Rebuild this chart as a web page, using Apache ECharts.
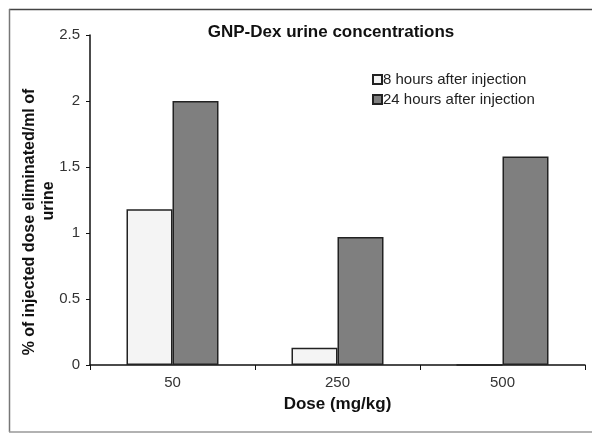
<!DOCTYPE html>
<html>
<head>
<meta charset="utf-8">
<script src="https://cdn.jsdelivr.net/npm/echarts@6/dist/echarts.min.js"></script>
<style>
  html, body { margin: 0; padding: 0; background: #fff; }
  #chart { width: 601px; height: 442px; }
</style>
</head>
<body>
<div id="chart"></div>
<script>
const doses = ["50", "250", "500"];
const hours8 = [1.18, 0.13, 0];
const hours24 = [2.0, 0.97, 1.58];
const yTicks = [0, 0.5, 1, 1.5, 2, 2.5];
const yNameLines = ["% of injected dose eliminated/ml of", "urine"];

const chart = echarts.init(document.getElementById("chart"));
const font = "Liberation Sans, Arial, sans-serif";

const options = {
  animation: false,
  textStyle: { fontFamily: font },
  title: {
    text: "GNP-Dex urine concentrations",
    left: 326,
    top: 19,
    textAlign: "center",
    textStyle: { fontSize: 17, fontWeight: "bold", color: "#111", fontFamily: font },
  },
  legend: {
    orient: "vertical",
    left: 367,
    top: 67,
    icon: "rect",
    itemWidth: 9,
    itemHeight: 9,
    itemGap: 5,
    textStyle: { fontSize: 15, color: "#222", fontFamily: font, padding: [0, 0, 0, -4] },
    data: ["8 hours after injection", "24 hours after injection"],
  },
  grid: { left: 90, right: 16, top: 35, bottom: 77 },
  xAxis: {
    type: "category",
    data: doses,
    name: "Dose (mg/kg)",
    nameLocation: "middle",
    nameGap: 31,
    nameTextStyle: { fontSize: 17, fontWeight: "bold", color: "#111", fontFamily: font },
    axisLine: { lineStyle: { color: "#111", width: 1.5 } },
    axisTick: { show: true, length: 5, lineStyle: { color: "#111" } },
    axisLabel: { fontSize: 15, color: "#333", margin: 10 },
  },
  yAxis: {
    type: "value",
    min: 0,
    max: 2.5,
    interval: 0.5,
    axisLine: { show: true, lineStyle: { color: "#111", width: 1.5 } },
    axisTick: { show: true, length: 4, lineStyle: { color: "#111" } },
    axisLabel: {
      fontSize: 15,
      color: "#333",
      margin: 10,
      formatter: (v) => (yTicks.includes(v) ? String(v) : ""),
    },
    splitLine: { show: false },
  },
  series: [
    {
      name: "8 hours after injection",
      type: "bar",
      data: hours8,
      barWidth: 46,
      barGap: "0%",
      itemStyle: { color: "#f4f4f4", borderColor: "#222", borderWidth: 1.5 },
    },
    {
      name: "24 hours after injection",
      type: "bar",
      data: hours24,
      barWidth: 46,
      itemStyle: { color: "#7f7f7f", borderColor: "#222", borderWidth: 1.5 },
    },
  ],
  graphic: [
    { type: "line", shape: { x1: 9, y1: 9.5, x2: 592, y2: 9.5 }, style: { stroke: "#444", lineWidth: 1.5 } },
    { type: "line", shape: { x1: 9.5, y1: 9, x2: 9.5, y2: 432 }, style: { stroke: "#777", lineWidth: 1.5 } },
    { type: "line", shape: { x1: 9, y1: 432, x2: 592, y2: 432 }, style: { stroke: "#999", lineWidth: 1.5 } },
    {
      type: "text",
      x: 30,
      y: 222,
      rotation: Math.PI / 2,
      style: {
        text: yNameLines[0],
        font: "bold 16px " + font,
        fill: "#111",
        textAlign: "center",
        textVerticalAlign: "middle",
      },
    },
    {
      type: "text",
      x: 49,
      y: 201,
      rotation: Math.PI / 2,
      style: {
        text: yNameLines[1],
        font: "bold 16px " + font,
        fill: "#111",
        textAlign: "center",
        textVerticalAlign: "middle",
      },
    },
  ],
};

chart.setOption(options);
</script>
</body>
</html>
